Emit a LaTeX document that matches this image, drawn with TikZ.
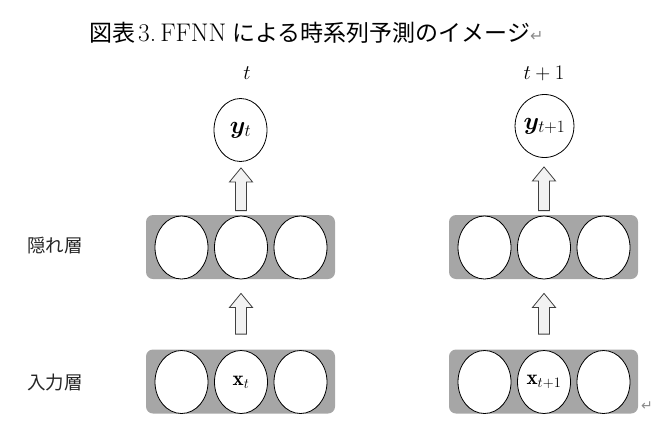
\documentclass[tikz,border=0pt]{standalone}
\usepackage{amsmath,bm}
\usepackage{fontspec}
\newfontfamily\cjk{Noto Sans CJK JP}
\newfontfamily\dejavu{DejaVu Sans}
\usetikzlibrary{calc,shapes.geometric}
\definecolor{layergray}{HTML}{A6A6A6}
\definecolor{arrowfill}{HTML}{F2F2F2}
\definecolor{arrowline}{HTML}{404040}
\definecolor{markgray}{HTML}{8C8C8C}
\tikzset{
  layerbox/.style={fill=layergray, draw=none, rounded corners=7pt, minimum width=189pt, minimum height=64pt, inner sep=0pt},
  unit/.style={ellipse, draw=black, line width=0.8pt, fill=white, minimum width=53pt, minimum height=63pt, inner sep=0pt, font=\fontsize{21}{25}\selectfont},
  outunit/.style={unit, font=\fontsize{23}{27}\selectfont},
  blockarrow/.style={draw=arrowline, fill=arrowfill, line width=0.8pt, line join=miter},
  timelabel/.style={font=\fontsize{20}{24}\selectfont, inner sep=0pt},
  sidelabel/.style={font=\fontsize{18.5}{22}\selectfont\cjk, inner sep=0pt, text=black!85},
  retmark/.style={font=\fontsize{14}{16}\selectfont\dejavu, text=markgray, inner sep=0pt}
}
\newcommand\uparrowconn[4]{%
  \draw[blockarrow] let \p1=($(#1.north)+(0,#3)$), \p2=($(#2.south)+(0,-#4)$) in
    (\x1-5.5pt,\y1) -- (\x1-5.5pt,\y2-14pt) -- (\x1-11.5pt,\y2-14pt) -- (\x1,\y2)
    -- (\x1+11.5pt,\y2-14pt) -- (\x1+5.5pt,\y2-14pt) -- (\x1+5.5pt,\y1) -- cycle;}
\begin{document}
\begin{tikzpicture}[x=1pt,y=-1pt]
\useasboundingbox (0,0) rectangle (666,434);
% title
\node[inner sep=0pt, anchor=west, font=\fontsize{23}{27}\selectfont] (title) at (89,33)
  {{\cjk 図表}\kern3pt{\fontsize{25.5}{28}\selectfont 3.\kern4pt FFNN}\kern6pt{\cjk による時系列予測のイメージ}{\dejavu\color{markgray}\fontsize{16}{18}\selectfont ↵}};
% side labels
\node[sidelabel] (hidlab) at (55,246) {隠れ層};
\node[sidelabel] (inlab) at (55,383) {入力層};
% left column
\node[timelabel] (tl) at (247,73) {$t$};
\node[outunit] (yl) at (240.5,130) {$\bm{y}_t$};
\node[layerbox] (hl) at (240.5,247) {};
\node[unit] (hl1) at (181.5,247.5) {};
\node[unit] (hl2) at (241,247.5) {};
\node[unit] (hl3) at (300.5,247.5) {};
\node[layerbox] (il) at (240.5,381.5) {};
\node[unit] (il1) at (181.5,382) {};
\node[unit] (il2) at (241,382) {$\mathbf{x}_t$};
\node[unit] (il3) at (300.5,382) {};
% right column
\node[timelabel] (tr) at (544,73) {$t+1$};
\node[outunit] (yr) at (544.5,126) {$\bm{y}_{t+1}$};
\node[layerbox] (hr) at (543.5,247) {};
\node[unit] (hr1) at (484.5,247.5) {};
\node[unit] (hr2) at (544,247.5) {};
\node[unit] (hr3) at (603.5,247.5) {};
\node[layerbox] (ir) at (543.5,381.5) {};
\node[unit] (ir1) at (484.5,382) {};
\node[unit] (ir2) at (544,382) {$\mathbf{x}_{t+1}$};
\node[unit] (ir3) at (603.5,382) {};
\node[retmark, anchor=west] (ret2) at (641,406) {↵};
% arrows
\uparrowconn{hl2}{yl}{5pt}{6pt}
\uparrowconn{il2}{hl2}{16pt}{14pt}
\uparrowconn{hr2}{yr}{5pt}{9pt}
\uparrowconn{ir2}{hr2}{16pt}{14pt}
\end{tikzpicture}
\end{document}
